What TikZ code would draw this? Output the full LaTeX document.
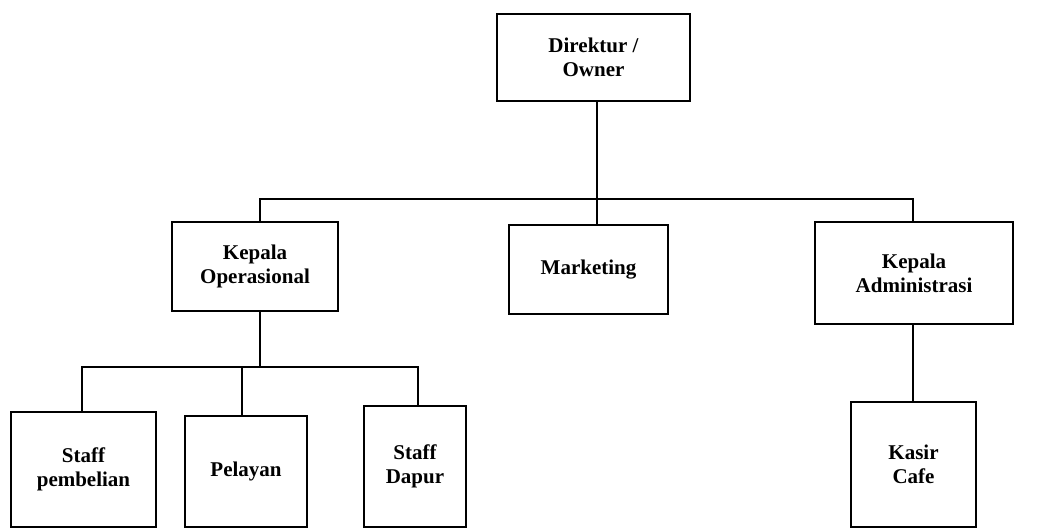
\documentclass[tikz,border=0pt]{standalone}
\usepackage{fontspec}
\setmainfont{Liberation Serif}
\usetikzlibrary{positioning}
\tikzstyle{orgchart}=[x=1pt, y=-1pt, line width=2pt]
\tikzstyle{post}=[draw, rectangle, align=center, inner sep=2pt, font=\fontsize{21}{24}\selectfont\bfseries]

\begin{document}
\begin{tikzpicture}[orgchart]
  \useasboundingbox (0,0) rectangle (1049,528);
  \node[post, minimum width=193pt, minimum height=87pt] (dir) at (593.5,57) {Direktur /\\Owner};
  \node[post, minimum width=166pt, minimum height=89pt] (kop) at (255,266.5) {Kepala\\Operasional};
  \node[post, minimum width=159pt, minimum height=89pt] (mkt) at (588.5,269.5) {Marketing};
  \node[post, minimum width=198pt, minimum height=102pt] (kad) at (914,273) {Kepala\\Administrasi};
  \node[post, minimum width=145pt, minimum height=115pt] (sp) at (83.5,469.5) {Staff\\pembelian};
  \node[post, minimum width=122pt, minimum height=111pt] (pel) at (246,471.5) {Pelayan};
  \node[post, minimum width=102pt, minimum height=121pt] (sd) at (415,466.5) {Staff\\Dapur};
  \node[post, minimum width=125pt, minimum height=125pt] (kc) at (913.5,464.5) {Kasir\\Cafe};
  % bus lines
  \coordinate (top) at (597,199);
  \coordinate (ops) at (260,367);
  \draw (top |- dir.south) -- (top);
  \draw (top) -- (top |- mkt.north);
  \draw (260,199 |- kop.north) |- (top);
  \draw (913,199 |- kad.north) |- (top);
  \draw (ops |- kop.south) -- (ops);
  \draw (82,0 |- sp.north) |- (ops);
  \draw (242,0 |- pel.north) -- (242,0 |- ops);
  \draw (418,0 |- sd.north) |- (ops);
  \draw (913,0 |- kad.south) -- (913,0 |- kc.north);
\end{tikzpicture}
\end{document}
